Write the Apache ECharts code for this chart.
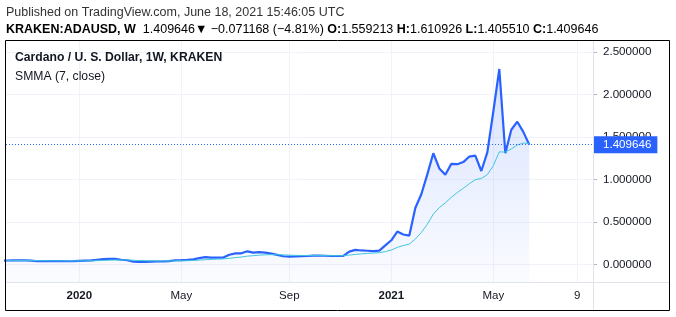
<!DOCTYPE html>
<html><head><meta charset="utf-8">
<script src="https://cdn.jsdelivr.net/npm/echarts@6/dist/echarts.min.js"></script>
<style>html,body{margin:0;padding:0;background:#fff}#c{width:676px;height:317px}</style>
</head><body><div id="c"></div>
<script>
// ---- data (weekly closes, KRAKEN:ADAUSD) ----
const firstWeek = '2019-10-07';
const closes = [
  0.045, 0.047, 0.049, 0.050, 0.049, 0.046, 0.038, 0.041, 0.040, 0.039, 0.039, 0.038, 0.040,
  0.043, 0.046, 0.048, 0.056, 0.064, 0.066, 0.066, 0.056, 0.050, 0.033, 0.030, 0.031, 0.033,
  0.035, 0.036, 0.040, 0.050, 0.052, 0.055, 0.060, 0.075, 0.087, 0.082, 0.080, 0.082, 0.115,
  0.130, 0.132, 0.155, 0.140, 0.146, 0.140, 0.128, 0.113, 0.097, 0.092, 0.094, 0.098, 0.100,
  0.104, 0.105, 0.103, 0.100, 0.100, 0.101, 0.152, 0.172, 0.165, 0.162, 0.158, 0.163, 0.225,
  0.285, 0.388, 0.353, 0.340, 0.664, 0.827, 1.060, 1.309, 1.130, 1.056, 1.184, 1.180, 1.205,
  1.270, 1.280, 1.100, 1.320, 1.800, 2.300, 1.310, 1.585, 1.680, 1.560, 1.409646
];
const smma = [
  0.0445, 0.0449, 0.0455, 0.0461, 0.0465, 0.0464, 0.0452, 0.0446, 0.0439, 0.0432, 0.0426, 0.0419, 0.0417,
  0.0419, 0.0425, 0.0432, 0.0451, 0.0478, 0.0504, 0.0526, 0.0531, 0.0527, 0.0499, 0.0470, 0.0447, 0.0430,
  0.0419, 0.0410, 0.0409, 0.0422, 0.0436, 0.0452, 0.0473, 0.0513, 0.0564, 0.0601, 0.0630, 0.0657, 0.0727,
  0.0809, 0.0882, 0.0978, 0.1038, 0.1098, 0.1141, 0.1161, 0.1157, 0.1130, 0.1100, 0.1077, 0.1063, 0.1054,
  0.1052, 0.1052, 0.1049, 0.1042, 0.1036, 0.1032, 0.1102, 0.1190, 0.1256, 0.1308, 0.1347, 0.1387, 0.1511,
  0.1702, 0.2013, 0.2230, 0.2397, 0.3003, 0.3756, 0.4734, 0.5928, 0.6695, 0.7247, 0.7903, 0.8460, 0.8973,
  0.9506, 0.9977, 1.0123, 1.0563, 1.1626, 1.3251, 1.3229, 1.3603, 1.4060, 1.4280, 1.4254
];
const xTickDates = ['2020-01-06', '2020-05-04', '2020-09-07', '2021-01-04', '2021-05-03', '2021-08-09'];
const xTickLabels = ['2020', 'May', 'Sep', '2021', 'May', '9'];
const xTickBold = [true, false, false, true, false, false];
const yTicks = [0, 0.5, 1, 1.5, 2, 2.5];
const lastPrice = 1.409646;
const header1 = 'Published on TradingView.com, June 18, 2021 15:46:05 UTC';
const symbolText = 'KRAKEN:ADAUSD, W';
const changeText = '\u22120.071168 (\u22124.81%)';
const ohlcNames = ['O:', 'H:', 'L:', 'C:'];
const ohlcValues = ['1.559213', '1.610926', '1.405510', '1.409646'];
const titleText = 'Cardano / U. S. Dollar, 1W, KRAKEN';
const indicatorText = 'SMMA (7, close)';

// ---- build ----
const DAY = 864e5;
const t0 = Date.parse(firstWeek + 'T00:00:00Z');
const weekTs = closes.map((_, i) => t0 + i * 7 * DAY);
const closeData = closes.map((v, i) => [weekTs[i], v]);
const smmaData = smma.map((v, i) => [weekTs[i], v]);
const xTickTs = xTickDates.map(d => Date.parse(d + 'T00:00:00Z'));
const ref = Date.parse('2020-01-06T00:00:00Z');
const xMin = ref - 85.52 * DAY;
const xMax = ref + 599.3 * DAY;

const FONT = 'Liberation Sans, Arial, sans-serif';
const RED = '#ef5350';
const DARK = '#131722';
const HS = 12.5;

const chart = echarts.init(document.getElementById('c'), null, {renderer: 'canvas'});

const headerRich = {
  b: {fontFamily: FONT, fontSize: HS, fontWeight: 'bold', color: DARK},
  n: {fontFamily: FONT, fontSize: HS, color: DARK},
  r: {fontFamily: FONT, fontSize: HS, color: RED}
};
let line2 = '{b|' + symbolText + '}{n|  ' + lastPrice.toFixed(6) + '}{r|\u25BC}{n| ' + changeText + '}';
ohlcNames.forEach((n, i) => { line2 += '{b| ' + n + '}{r|' + ohlcValues[i] + '}'; });

chart.setOption({
  animation: false,
  backgroundColor: '#ffffff',
  grid: {left: 6, right: 83, top: 41, bottom: 35, containLabel: false},
  xAxis: {
    type: 'value', min: xMin, max: xMax, scale: true,
    axisLine: {show: false},
    axisTick: {show: false, customValues: xTickTs},
    splitLine: {show: true, lineStyle: {color: '#f0f3fa', width: 1}},
    axisLabel: {
      customValues: xTickTs, margin: 8, color: DARK, fontFamily: FONT, fontSize: 11.5,
      formatter: v => {
        const k = xTickTs.indexOf(v);
        if (k < 0) return '';
        return xTickBold[k] ? '{y|' + xTickLabels[k] + '}' : xTickLabels[k];
      },
      rich: {y: {fontWeight: 'bold', fontFamily: FONT, fontSize: 11.5, color: DARK}}
    }
  },
  yAxis: {
    type: 'value', position: 'right', min: -0.2059, max: 2.6294,
    axisLine: {show: false},
    axisTick: {show: true, customValues: yTicks, length: 4, lineStyle: {color: '#b2b5be'}},
    splitLine: {show: true, lineStyle: {color: '#f0f3fa', width: 1}},
    axisLabel: {customValues: yTicks, margin: 10, color: DARK, fontFamily: FONT, fontSize: 11.6,
      formatter: v => v.toFixed(6)}
  },
  series: [
    {
      type: 'line', name: 'ADAUSD', data: closeData, symbol: 'none', z: 3,
      lineStyle: {color: '#2962ff', width: 2.2},
      areaStyle: {
        origin: 'start',
        color: new echarts.graphic.LinearGradient(0, 0, 0, 1, [
          {offset: 0, color: 'rgba(41,98,255,0.26)'},
          {offset: 1, color: 'rgba(41,98,255,0.03)'}
        ])
      },
      markLine: {
        symbol: 'none', silent: true, animation: false,
        data: [{yAxis: lastPrice}],
        lineStyle: {color: '#2962ff', type: [1, 2], width: 1},
        label: {
          show: true, position: 'end', distance: 0,
          formatter: () => lastPrice.toFixed(6),
          backgroundColor: '#2962ff', color: '#ffffff', fontFamily: FONT, fontSize: 11.6,
          padding: [3, 6, 2, 10]
        }
      }
    },
    {
      type: 'line', name: 'SMMA', data: smmaData, symbol: 'none', z: 4,
      lineStyle: {color: '#3fc6dd', width: 1}
    }
  ],
  graphic: [
    {type: 'line', shape: {x1: 6, y1: 282.5, x2: 669, y2: 282.5}, style: {stroke: '#e0e3eb', lineWidth: 1}, z: 10},
    {type: 'line', shape: {x1: 593.5, y1: 41, x2: 593.5, y2: 310}, style: {stroke: '#e0e3eb', lineWidth: 1}, z: 10},
    {type: 'rect', shape: {x: 5.5, y: 40.5, width: 664, height: 270}, style: {fill: 'none', stroke: '#000000', lineWidth: 1}, z: 11},
    {type: 'text', left: 6, top: 6, z: 20, style: {text: header1, fontFamily: FONT, fontSize: HS, fill: '#333333'}},
    {type: 'text', left: 6, top: 23, z: 20, style: {text: line2, rich: headerRich, fontFamily: FONT, fontSize: HS}},
    {type: 'text', left: 15, top: 52, z: 20, style: {text: titleText, fontFamily: FONT, fontSize: 12.2, fontWeight: 'bold', fill: DARK, backgroundColor: 'rgba(255,255,255,0)'}},
    {type: 'text', left: 15, top: 71, z: 20, style: {text: indicatorText, fontFamily: FONT, fontSize: 12.2, fill: DARK}}
  ]
});
</script>
</body></html>
